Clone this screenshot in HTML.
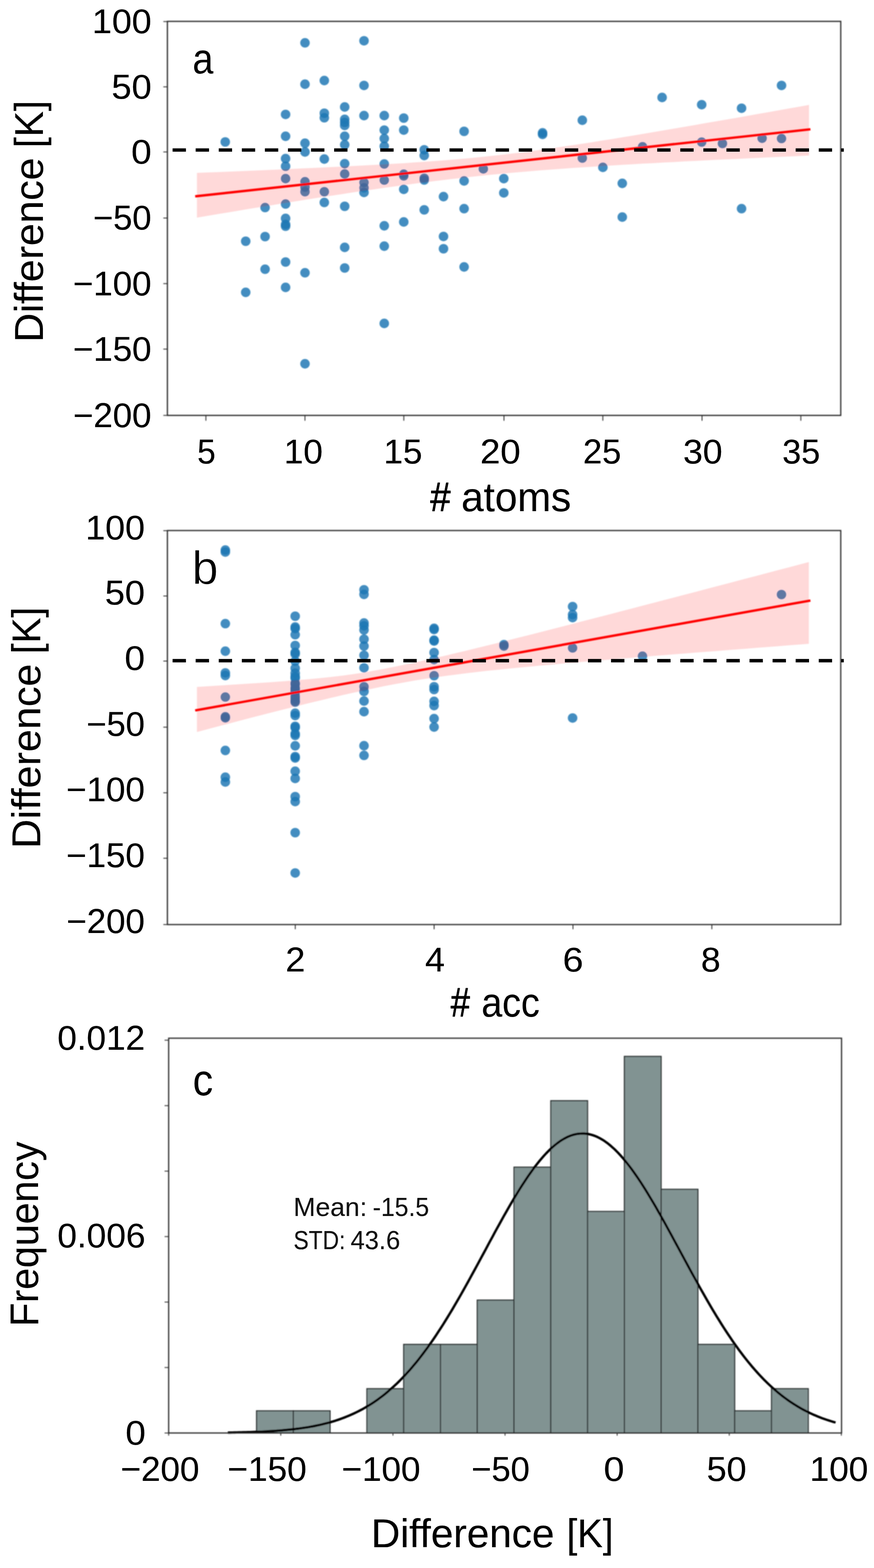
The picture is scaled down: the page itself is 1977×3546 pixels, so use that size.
<!DOCTYPE html>
<html lang="en"><head><meta charset="utf-8"><title>Figure</title>
<style>html,body{margin:0;padding:0;background:#fff}svg{display:block;filter:blur(0.45px)}</style></head>
<body>
<svg width="1977" height="3546" viewBox="0 0 1977 3546" font-family='"Liberation Sans", sans-serif'>
<defs><filter id="soft" filterUnits="userSpaceOnUse" x="0" y="0" width="1977" height="3546"><feGaussianBlur stdDeviation="0.9"/></filter></defs>
<rect width="1977" height="3546" fill="#fff"/>
<g filter="url(#soft)">
<g fill="#1f77b4" fill-opacity="0.84">
<circle cx="509.5" cy="321.0" r="10.8"/>
<circle cx="555.8" cy="545.5" r="10.8"/>
<circle cx="555.8" cy="661.1" r="10.8"/>
<circle cx="599.6" cy="469.3" r="10.8"/>
<circle cx="599.6" cy="535.0" r="10.8"/>
<circle cx="599.6" cy="608.8" r="10.8"/>
<circle cx="646.0" cy="258.7" r="10.8"/>
<circle cx="646.0" cy="308.1" r="10.8"/>
<circle cx="646.0" cy="358.6" r="10.8"/>
<circle cx="646.0" cy="376.0" r="10.8"/>
<circle cx="646.0" cy="403.9" r="10.8"/>
<circle cx="646.0" cy="461.3" r="10.8"/>
<circle cx="646.0" cy="493.9" r="10.8"/>
<circle cx="646.0" cy="507.5" r="10.8"/>
<circle cx="646.0" cy="511.5" r="10.8"/>
<circle cx="646.0" cy="592.5" r="10.8"/>
<circle cx="646.0" cy="649.9" r="10.8"/>
<circle cx="689.9" cy="96.8" r="10.8"/>
<circle cx="689.9" cy="190.4" r="10.8"/>
<circle cx="689.9" cy="323.8" r="10.8"/>
<circle cx="689.9" cy="343.6" r="10.8"/>
<circle cx="689.9" cy="410.8" r="10.8"/>
<circle cx="689.9" cy="423.0" r="10.8"/>
<circle cx="689.9" cy="433.5" r="10.8"/>
<circle cx="689.9" cy="616.8" r="10.8"/>
<circle cx="689.9" cy="822.6" r="10.8"/>
<circle cx="733.6" cy="182.1" r="10.8"/>
<circle cx="733.6" cy="256.0" r="10.8"/>
<circle cx="733.6" cy="266.3" r="10.8"/>
<circle cx="733.6" cy="359.6" r="10.8"/>
<circle cx="733.6" cy="433.5" r="10.8"/>
<circle cx="733.6" cy="457.8" r="10.8"/>
<circle cx="779.7" cy="241.9" r="10.8"/>
<circle cx="779.7" cy="269.8" r="10.8"/>
<circle cx="779.7" cy="276.8" r="10.8"/>
<circle cx="779.7" cy="283.7" r="10.8"/>
<circle cx="779.7" cy="308.1" r="10.8"/>
<circle cx="779.7" cy="327.3" r="10.8"/>
<circle cx="779.7" cy="370.1" r="10.8"/>
<circle cx="779.7" cy="393.4" r="10.8"/>
<circle cx="779.7" cy="466.5" r="10.8"/>
<circle cx="779.7" cy="559.4" r="10.8"/>
<circle cx="779.7" cy="606.0" r="10.8"/>
<circle cx="823.4" cy="92.2" r="10.8"/>
<circle cx="823.4" cy="193.2" r="10.8"/>
<circle cx="823.4" cy="261.4" r="10.8"/>
<circle cx="823.4" cy="412.6" r="10.8"/>
<circle cx="823.4" cy="424.7" r="10.8"/>
<circle cx="823.4" cy="435.2" r="10.8"/>
<circle cx="869.2" cy="261.4" r="10.8"/>
<circle cx="869.2" cy="294.2" r="10.8"/>
<circle cx="869.2" cy="313.3" r="10.8"/>
<circle cx="869.2" cy="330.7" r="10.8"/>
<circle cx="869.2" cy="370.8" r="10.8"/>
<circle cx="869.2" cy="407.3" r="10.8"/>
<circle cx="869.2" cy="510.6" r="10.8"/>
<circle cx="869.2" cy="556.6" r="10.8"/>
<circle cx="869.2" cy="731.4" r="10.8"/>
<circle cx="913.3" cy="267.0" r="10.8"/>
<circle cx="913.3" cy="294.2" r="10.8"/>
<circle cx="913.3" cy="393.8" r="10.8"/>
<circle cx="913.3" cy="397.8" r="10.8"/>
<circle cx="913.3" cy="428.2" r="10.8"/>
<circle cx="913.3" cy="501.9" r="10.8"/>
<circle cx="959.6" cy="338.7" r="10.8"/>
<circle cx="959.6" cy="351.6" r="10.8"/>
<circle cx="959.6" cy="403.0" r="10.8"/>
<circle cx="959.6" cy="407.0" r="10.8"/>
<circle cx="959.6" cy="474.5" r="10.8"/>
<circle cx="1003.2" cy="444.6" r="10.8"/>
<circle cx="1003.2" cy="534.7" r="10.8"/>
<circle cx="1003.2" cy="562.5" r="10.8"/>
<circle cx="1049.8" cy="297.0" r="10.8"/>
<circle cx="1049.8" cy="409.1" r="10.8"/>
<circle cx="1049.8" cy="471.8" r="10.8"/>
<circle cx="1049.8" cy="603.6" r="10.8"/>
<circle cx="1093.3" cy="381.9" r="10.8"/>
<circle cx="1139.6" cy="403.9" r="10.8"/>
<circle cx="1139.6" cy="436.2" r="10.8"/>
<circle cx="1227.3" cy="300.4" r="10.8"/>
<circle cx="1227.3" cy="303.9" r="10.8"/>
<circle cx="1317.2" cy="271.9" r="10.8"/>
<circle cx="1317.2" cy="357.5" r="10.8"/>
<circle cx="1363.7" cy="378.4" r="10.8"/>
<circle cx="1407.6" cy="414.6" r="10.8"/>
<circle cx="1407.6" cy="490.9" r="10.8"/>
<circle cx="1453.5" cy="331.8" r="10.8"/>
<circle cx="1497.7" cy="220.4" r="10.8"/>
<circle cx="1587.2" cy="236.7" r="10.8"/>
<circle cx="1587.2" cy="321.3" r="10.8"/>
<circle cx="1634.2" cy="324.5" r="10.8"/>
<circle cx="1677.4" cy="244.7" r="10.8"/>
<circle cx="1677.4" cy="471.8" r="10.8"/>
<circle cx="1723.9" cy="312.6" r="10.8"/>
<circle cx="1767.8" cy="193.2" r="10.8"/>
<circle cx="1767.8" cy="313.3" r="10.8"/>
</g>
<polygon points="445.4,391.1 468.9,390.1 492.3,389.2 515.8,388.2 539.3,387.2 562.7,386.2 586.2,385.3 609.7,384.2 633.1,383.2 656.6,382.2 680.1,381.1 703.5,380.1 727.0,379.0 750.5,377.8 773.9,376.7 797.4,375.5 820.9,374.3 844.4,373.0 867.8,371.7 891.3,370.3 914.8,368.9 938.2,367.3 961.7,365.7 985.2,364.0 1008.6,362.2 1032.1,360.3 1055.6,358.2 1079.0,355.9 1102.5,353.6 1126.0,351.0 1149.4,348.3 1172.9,345.4 1196.4,342.4 1219.8,339.3 1243.3,336.0 1266.8,332.6 1290.2,329.1 1313.7,325.5 1337.2,321.9 1360.6,318.1 1384.1,314.4 1407.6,310.5 1431.0,306.7 1454.5,302.7 1478.0,298.8 1501.5,294.8 1524.9,290.8 1548.4,286.8 1571.9,282.7 1595.3,278.6 1618.8,274.6 1642.3,270.5 1665.7,266.4 1689.2,262.2 1712.7,258.1 1736.1,254.0 1759.6,249.8 1783.1,245.6 1806.5,241.5 1830.0,237.3 1830.0,351.8 1806.5,352.9 1783.1,353.9 1759.6,355.0 1736.1,356.1 1712.7,357.2 1689.2,358.3 1665.7,359.4 1642.3,360.5 1618.8,361.6 1595.3,362.8 1571.9,364.0 1548.4,365.1 1524.9,366.4 1501.5,367.6 1478.0,368.9 1454.5,370.1 1431.0,371.5 1407.6,372.8 1384.1,374.2 1360.6,375.7 1337.2,377.2 1313.7,378.7 1290.2,380.3 1266.8,382.0 1243.3,383.7 1219.8,385.5 1196.4,387.5 1172.9,389.5 1149.4,391.6 1126.0,393.8 1102.5,396.1 1079.0,398.5 1055.6,401.0 1032.1,403.7 1008.6,406.4 985.2,409.3 961.7,412.3 938.2,415.3 914.8,418.4 891.3,421.7 867.8,425.0 844.4,428.4 820.9,431.8 797.4,435.3 773.9,438.9 750.5,442.5 727.0,446.1 703.5,449.8 680.1,453.5 656.6,457.3 633.1,461.1 609.7,464.9 586.2,468.7 562.7,472.6 539.3,476.5 515.8,480.4 492.3,484.3 468.9,488.2 445.4,492.2" fill="#ff0000" fill-opacity="0.15"/>
<line x1="441.5" y1="444.0" x2="1833.2" y2="292.4" stroke="#ff0000" stroke-width="5.4"/>
<rect x="378.7" y="48.3" width="1523.1" height="891.1" fill="none" stroke="#2a2a2a" stroke-width="2.7"/>
<line x1="369.5" y1="48.7" x2="378.7" y2="48.7" stroke="#2a2a2a" stroke-width="1.9"/>
<line x1="369.5" y1="196.4" x2="378.7" y2="196.4" stroke="#2a2a2a" stroke-width="1.9"/>
<line x1="369.5" y1="343.6" x2="378.7" y2="343.6" stroke="#2a2a2a" stroke-width="1.9"/>
<line x1="369.5" y1="493.1" x2="378.7" y2="493.1" stroke="#2a2a2a" stroke-width="1.9"/>
<line x1="369.5" y1="641.4" x2="378.7" y2="641.4" stroke="#2a2a2a" stroke-width="1.9"/>
<line x1="369.5" y1="789.5" x2="378.7" y2="789.5" stroke="#2a2a2a" stroke-width="1.9"/>
<line x1="369.5" y1="939.4" x2="378.7" y2="939.4" stroke="#2a2a2a" stroke-width="1.9"/>
<line x1="465.7" y1="939.4" x2="465.7" y2="951.4" stroke="#2a2a2a" stroke-width="2.0"/>
<line x1="689.8" y1="939.4" x2="689.8" y2="951.4" stroke="#2a2a2a" stroke-width="2.0"/>
<line x1="913.4" y1="939.4" x2="913.4" y2="951.4" stroke="#2a2a2a" stroke-width="2.0"/>
<line x1="1140.0" y1="939.4" x2="1140.0" y2="951.4" stroke="#2a2a2a" stroke-width="2.0"/>
<line x1="1363.6" y1="939.4" x2="1363.6" y2="951.4" stroke="#2a2a2a" stroke-width="2.0"/>
<line x1="1588.0" y1="939.4" x2="1588.0" y2="951.4" stroke="#2a2a2a" stroke-width="2.0"/>
<line x1="1811.5" y1="939.4" x2="1811.5" y2="951.4" stroke="#2a2a2a" stroke-width="2.0"/>
</g>
<line x1="390.4" y1="339.3" x2="1900" y2="339.3" stroke="#000" stroke-width="7.6" stroke-dasharray="30.2 22.0"/>
<line x1="1902.4" y1="339.3" x2="1908.7" y2="339.3" stroke="#000" stroke-width="7.6"/>
<text transform="translate(208.36,75.00) scale(1.0331,1)" font-size="78" fill="#000" stroke="#000" stroke-width="0.2" stroke-linejoin="round">100</text>
<text transform="translate(252.34,222.70) scale(1.0443,1)" font-size="78" fill="#000" stroke="#000" stroke-width="0.2" stroke-linejoin="round">50</text>
<text transform="translate(296.78,369.90) scale(1.0632,1)" font-size="78" fill="#000" stroke="#000" stroke-width="0.2" stroke-linejoin="round">0</text>
<text transform="translate(210.50,519.40) scale(0.9993,1)" font-size="78" fill="#000" stroke="#000" stroke-width="0.2" stroke-linejoin="round">−50</text>
<text transform="translate(164.96,667.70) scale(1.0114,1)" font-size="78" fill="#000" stroke="#000" stroke-width="0.2" stroke-linejoin="round">−100</text>
<text transform="translate(164.96,815.80) scale(1.0114,1)" font-size="78" fill="#000" stroke="#000" stroke-width="0.2" stroke-linejoin="round">−150</text>
<text transform="translate(165.26,965.70) scale(1.0097,1)" font-size="78" fill="#000" stroke="#000" stroke-width="0.2" stroke-linejoin="round">−200</text>
<text transform="translate(445.89,1047.80) scale(0.9663,1)" font-size="78" fill="#000" stroke="#000" stroke-width="0.2" stroke-linejoin="round">5</text>
<text transform="translate(642.27,1047.80) scale(1.0141,1)" font-size="78" fill="#000" stroke="#000" stroke-width="0.2" stroke-linejoin="round">10</text>
<text transform="translate(867.68,1047.80) scale(1.0128,1)" font-size="78" fill="#000" stroke="#000" stroke-width="0.2" stroke-linejoin="round">15</text>
<text transform="translate(1085.98,1047.80) scale(1.0557,1)" font-size="78" fill="#000" stroke="#000" stroke-width="0.2" stroke-linejoin="round">20</text>
<text transform="translate(1318.81,1047.80) scale(0.9980,1)" font-size="78" fill="#000" stroke="#000" stroke-width="0.2" stroke-linejoin="round">25</text>
<text transform="translate(1545.20,1047.80) scale(1.0256,1)" font-size="78" fill="#000" stroke="#000" stroke-width="0.2" stroke-linejoin="round">30</text>
<text transform="translate(1769.62,1047.80) scale(0.9859,1)" font-size="78" fill="#000" stroke="#000" stroke-width="0.2" stroke-linejoin="round">35</text>
<g>
<text transform="translate(973.19,1155.70) scale(0.8897,1)" font-size="93" fill="#000" stroke="#000" stroke-width="1.3" stroke-linejoin="round">#</text>
<text transform="translate(1043.32,1155.70) scale(0.9822,1)" font-size="93" fill="#000" stroke="#000" stroke-width="0.15" stroke-linejoin="round">atoms</text>
</g>
<g>
<text transform="translate(96.70,774.29) rotate(-90) scale(1.0111,1)" font-size="91" fill="#000" stroke="#000" stroke-width="0.15" stroke-linejoin="round">Difference</text>
<text transform="translate(96.70,334.47) rotate(-90) scale(0.9656,1)" font-size="91" fill="#000" stroke="#000" stroke-width="0.15" stroke-linejoin="round">[K]</text>
</g>
<text transform="translate(435.60,165.54) scale(0.8468,0.9571)" font-size="100" fill="#000">a</text>
<g filter="url(#soft)">
<g fill="#1f77b4" fill-opacity="0.84">
<circle cx="509.7" cy="1243.8" r="10.8"/>
<circle cx="509.7" cy="1248.4" r="10.8"/>
<circle cx="509.7" cy="1410.3" r="10.8"/>
<circle cx="509.7" cy="1472.6" r="10.8"/>
<circle cx="509.7" cy="1521.7" r="10.8"/>
<circle cx="509.7" cy="1527.6" r="10.8"/>
<circle cx="509.7" cy="1576.3" r="10.8"/>
<circle cx="509.7" cy="1620.9" r="10.8"/>
<circle cx="509.7" cy="1623.4" r="10.8"/>
<circle cx="509.7" cy="1697.1" r="10.8"/>
<circle cx="509.7" cy="1757.6" r="10.8"/>
<circle cx="509.7" cy="1768.4" r="10.8"/>
<circle cx="667.7" cy="1393.5" r="10.8"/>
<circle cx="667.7" cy="1417.9" r="10.8"/>
<circle cx="667.7" cy="1421.4" r="10.8"/>
<circle cx="667.7" cy="1435.3" r="10.8"/>
<circle cx="667.7" cy="1459.7" r="10.8"/>
<circle cx="667.7" cy="1475.4" r="10.8"/>
<circle cx="667.7" cy="1478.9" r="10.8"/>
<circle cx="667.7" cy="1495.2" r="10.8"/>
<circle cx="667.7" cy="1511.2" r="10.8"/>
<circle cx="667.7" cy="1522.4" r="10.8"/>
<circle cx="667.7" cy="1530.0" r="10.8"/>
<circle cx="667.7" cy="1533.5" r="10.8"/>
<circle cx="667.7" cy="1545.0" r="10.8"/>
<circle cx="667.7" cy="1547.4" r="10.8"/>
<circle cx="667.7" cy="1555.5" r="10.8"/>
<circle cx="667.7" cy="1558.6" r="10.8"/>
<circle cx="667.7" cy="1562.4" r="10.8"/>
<circle cx="667.7" cy="1566.2" r="10.8"/>
<circle cx="667.7" cy="1574.6" r="10.8"/>
<circle cx="667.7" cy="1579.8" r="10.8"/>
<circle cx="667.7" cy="1585.1" r="10.8"/>
<circle cx="667.7" cy="1587.8" r="10.8"/>
<circle cx="667.7" cy="1612.9" r="10.8"/>
<circle cx="667.7" cy="1618.1" r="10.8"/>
<circle cx="667.7" cy="1642.5" r="10.8"/>
<circle cx="667.7" cy="1645.5" r="10.8"/>
<circle cx="667.7" cy="1659.1" r="10.8"/>
<circle cx="667.7" cy="1663.1" r="10.8"/>
<circle cx="667.7" cy="1686.6" r="10.8"/>
<circle cx="667.7" cy="1711.0" r="10.8"/>
<circle cx="667.7" cy="1714.1" r="10.8"/>
<circle cx="667.7" cy="1744.1" r="10.8"/>
<circle cx="667.7" cy="1760.4" r="10.8"/>
<circle cx="667.7" cy="1801.5" r="10.8"/>
<circle cx="667.7" cy="1812.7" r="10.8"/>
<circle cx="667.7" cy="1883.0" r="10.8"/>
<circle cx="667.7" cy="1974.2" r="10.8"/>
<circle cx="823.4" cy="1333.7" r="10.8"/>
<circle cx="823.4" cy="1344.1" r="10.8"/>
<circle cx="823.4" cy="1408.9" r="10.8"/>
<circle cx="823.4" cy="1415.2" r="10.8"/>
<circle cx="823.4" cy="1424.6" r="10.8"/>
<circle cx="823.4" cy="1445.5" r="10.8"/>
<circle cx="823.4" cy="1461.1" r="10.8"/>
<circle cx="823.4" cy="1482.0" r="10.8"/>
<circle cx="823.4" cy="1510.2" r="10.8"/>
<circle cx="823.4" cy="1553.0" r="10.8"/>
<circle cx="823.4" cy="1563.5" r="10.8"/>
<circle cx="823.4" cy="1585.4" r="10.8"/>
<circle cx="823.4" cy="1609.4" r="10.8"/>
<circle cx="823.4" cy="1686.4" r="10.8"/>
<circle cx="823.4" cy="1708.3" r="10.8"/>
<circle cx="981.9" cy="1420.9" r="10.8"/>
<circle cx="981.9" cy="1423.6" r="10.8"/>
<circle cx="981.9" cy="1447.6" r="10.8"/>
<circle cx="981.9" cy="1449.6" r="10.8"/>
<circle cx="981.9" cy="1475.7" r="10.8"/>
<circle cx="981.9" cy="1491.6" r="10.8"/>
<circle cx="981.9" cy="1528.0" r="10.8"/>
<circle cx="981.9" cy="1553.0" r="10.8"/>
<circle cx="981.9" cy="1559.3" r="10.8"/>
<circle cx="981.9" cy="1586.1" r="10.8"/>
<circle cx="981.9" cy="1595.6" r="10.8"/>
<circle cx="981.9" cy="1625.1" r="10.8"/>
<circle cx="981.9" cy="1644.1" r="10.8"/>
<circle cx="1139.9" cy="1457.7" r="10.8"/>
<circle cx="1139.9" cy="1461.1" r="10.8"/>
<circle cx="1295.2" cy="1371.7" r="10.8"/>
<circle cx="1295.2" cy="1389.8" r="10.8"/>
<circle cx="1295.2" cy="1396.7" r="10.8"/>
<circle cx="1295.2" cy="1465.3" r="10.8"/>
<circle cx="1295.2" cy="1623.7" r="10.8"/>
<circle cx="1453.3" cy="1483.8" r="10.8"/>
<circle cx="1767.7" cy="1344.5" r="10.8"/>
</g>
<polygon points="445.4,1553.4 468.9,1552.0 492.3,1550.5 515.8,1549.1 539.2,1547.6 562.7,1546.1 586.2,1544.5 609.6,1542.9 633.1,1541.2 656.5,1539.4 680.0,1537.5 703.5,1535.4 726.9,1533.2 750.4,1530.7 773.9,1527.9 797.3,1524.8 820.8,1521.2 844.2,1517.1 867.7,1512.7 891.2,1508.1 914.6,1503.3 938.1,1498.3 961.5,1493.1 985.0,1487.8 1008.5,1482.4 1031.9,1476.8 1055.4,1471.2 1078.8,1465.5 1102.3,1459.7 1125.8,1453.9 1149.2,1448.0 1172.7,1442.1 1196.2,1436.2 1219.6,1430.2 1243.1,1424.2 1266.5,1418.2 1290.0,1412.2 1313.5,1406.1 1336.9,1400.0 1360.4,1394.0 1383.8,1387.9 1407.3,1381.8 1430.8,1375.7 1454.2,1369.6 1477.7,1363.4 1501.1,1357.3 1524.6,1351.2 1548.1,1345.0 1571.5,1338.9 1595.0,1332.7 1618.5,1326.6 1641.9,1320.4 1665.4,1314.3 1688.8,1308.1 1712.3,1301.9 1735.8,1295.8 1759.2,1289.6 1782.7,1283.4 1806.1,1277.3 1829.6,1271.1 1829.6,1456.0 1806.1,1457.8 1782.7,1459.6 1759.2,1461.4 1735.8,1463.2 1712.3,1465.0 1688.8,1466.9 1665.4,1468.7 1641.9,1470.5 1618.5,1472.4 1595.0,1474.2 1571.5,1476.1 1548.1,1477.9 1524.6,1479.8 1501.1,1481.7 1477.7,1483.6 1454.2,1485.5 1430.8,1487.4 1407.3,1489.3 1383.8,1491.2 1360.4,1493.2 1336.9,1495.2 1313.5,1497.2 1290.0,1499.2 1266.5,1501.3 1243.1,1503.4 1219.6,1505.5 1196.2,1507.7 1172.7,1509.9 1149.2,1512.3 1125.8,1514.7 1102.3,1517.1 1078.8,1519.7 1055.4,1522.5 1031.9,1525.4 1008.5,1528.5 985.0,1531.8 961.5,1535.3 938.1,1539.1 914.6,1543.2 891.2,1547.5 867.7,1552.1 844.2,1556.9 820.8,1561.9 797.3,1567.0 773.9,1572.3 750.4,1577.8 726.9,1583.4 703.5,1589.1 680.0,1594.8 656.5,1600.7 633.1,1606.6 609.6,1612.6 586.2,1618.6 562.7,1624.6 539.2,1630.7 515.8,1636.9 492.3,1643.0 468.9,1649.2 445.4,1655.4" fill="#ff0000" fill-opacity="0.15"/>
<line x1="441.5" y1="1606.6" x2="1833.2" y2="1358.1" stroke="#ff0000" stroke-width="5.4"/>
<rect x="378.7" y="1199.8" width="1523.1" height="891.1000000000001" fill="none" stroke="#2a2a2a" stroke-width="2.7"/>
<line x1="369.5" y1="1200.1000000000001" x2="378.7" y2="1200.1000000000001" stroke="#2a2a2a" stroke-width="1.9"/>
<line x1="369.5" y1="1347.8000000000002" x2="378.7" y2="1347.8000000000002" stroke="#2a2a2a" stroke-width="1.9"/>
<line x1="369.5" y1="1495.0" x2="378.7" y2="1495.0" stroke="#2a2a2a" stroke-width="1.9"/>
<line x1="369.5" y1="1644.5" x2="378.7" y2="1644.5" stroke="#2a2a2a" stroke-width="1.9"/>
<line x1="369.5" y1="1792.8000000000002" x2="378.7" y2="1792.8000000000002" stroke="#2a2a2a" stroke-width="1.9"/>
<line x1="369.5" y1="1940.9" x2="378.7" y2="1940.9" stroke="#2a2a2a" stroke-width="1.9"/>
<line x1="369.5" y1="2090.8" x2="378.7" y2="2090.8" stroke="#2a2a2a" stroke-width="1.9"/>
<line x1="667.9" y1="2090.9" x2="667.9" y2="2101.4" stroke="#2a2a2a" stroke-width="2.0"/>
<line x1="982.0" y1="2090.9" x2="982.0" y2="2101.4" stroke="#2a2a2a" stroke-width="2.0"/>
<line x1="1296.1" y1="2090.9" x2="1296.1" y2="2101.4" stroke="#2a2a2a" stroke-width="2.0"/>
<line x1="1610.2" y1="2090.9" x2="1610.2" y2="2101.4" stroke="#2a2a2a" stroke-width="2.0"/>
</g>
<line x1="390.4" y1="1494.1" x2="1900" y2="1494.1" stroke="#000" stroke-width="7.6" stroke-dasharray="30.2 22.0"/>
<line x1="1902.4" y1="1494.1" x2="1908.7" y2="1494.1" stroke="#000" stroke-width="7.6"/>
<text transform="translate(193.26,1219.70) scale(1.0331,1)" font-size="78" fill="#000" stroke="#000" stroke-width="0.2" stroke-linejoin="round">100</text>
<text transform="translate(237.24,1367.40) scale(1.0443,1)" font-size="78" fill="#000" stroke="#000" stroke-width="0.2" stroke-linejoin="round">50</text>
<text transform="translate(281.68,1514.60) scale(1.0632,1)" font-size="78" fill="#000" stroke="#000" stroke-width="0.2" stroke-linejoin="round">0</text>
<text transform="translate(195.40,1664.10) scale(0.9993,1)" font-size="78" fill="#000" stroke="#000" stroke-width="0.2" stroke-linejoin="round">−50</text>
<text transform="translate(149.86,1812.40) scale(1.0114,1)" font-size="78" fill="#000" stroke="#000" stroke-width="0.2" stroke-linejoin="round">−100</text>
<text transform="translate(149.86,1960.50) scale(1.0114,1)" font-size="78" fill="#000" stroke="#000" stroke-width="0.2" stroke-linejoin="round">−150</text>
<text transform="translate(150.16,2110.40) scale(1.0097,1)" font-size="78" fill="#000" stroke="#000" stroke-width="0.2" stroke-linejoin="round">−200</text>
<text transform="translate(645.78,2197.20) scale(1.0313,1)" font-size="78" fill="#000" stroke="#000" stroke-width="0.2" stroke-linejoin="round">2</text>
<text transform="translate(961.39,2197.20) scale(1.0333,1)" font-size="78" fill="#000" stroke="#000" stroke-width="0.2" stroke-linejoin="round">4</text>
<text transform="translate(1272.68,2197.20) scale(1.0811,1)" font-size="78" fill="#000" stroke="#000" stroke-width="0.2" stroke-linejoin="round">6</text>
<text transform="translate(1585.51,2197.20) scale(1.0229,1)" font-size="78" fill="#000" stroke="#000" stroke-width="0.2" stroke-linejoin="round">8</text>
<g>
<text transform="translate(1019.61,2299.30) scale(0.8425,1)" font-size="93" fill="#000" stroke="#000" stroke-width="1.3" stroke-linejoin="round">#</text>
<text transform="translate(1089.00,2299.30) scale(0.9109,1)" font-size="93" fill="#000" stroke="#000" stroke-width="0.15" stroke-linejoin="round">acc</text>
</g>
<g>
<text transform="translate(91.40,1918.99) rotate(-90) scale(1.0111,1)" font-size="91" fill="#000" stroke="#000" stroke-width="0.15" stroke-linejoin="round">Difference</text>
<text transform="translate(91.40,1479.13) rotate(-90) scale(0.9595,1)" font-size="91" fill="#000" stroke="#000" stroke-width="0.15" stroke-linejoin="round">[K]</text>
</g>
<text transform="translate(434.17,1321.44) scale(1.0667,1.0558)" font-size="100" fill="#000" stroke="#fff" stroke-width="1.0" stroke-linejoin="round">b</text>
<g filter="url(#soft)">
<g fill="#819392" stroke="#2b3030" stroke-width="2.5">
<rect x="580.3" y="3190.6" width="83.2" height="50.1"/>
<rect x="663.5" y="3190.6" width="83.2" height="50.1"/>
<rect x="829.9" y="3140.5" width="83.2" height="100.2"/>
<rect x="913.1" y="3040.3" width="83.2" height="200.4"/>
<rect x="996.3" y="3040.3" width="83.2" height="200.4"/>
<rect x="1079.5" y="2940.1" width="83.2" height="300.6"/>
<rect x="1162.7" y="2639.5" width="83.2" height="601.2"/>
<rect x="1245.9" y="2489.2" width="83.2" height="751.5"/>
<rect x="1329.1" y="2739.7" width="83.2" height="501.0"/>
<rect x="1412.3" y="2389.0" width="83.2" height="851.7"/>
<rect x="1495.5" y="2689.6" width="83.2" height="551.1"/>
<rect x="1578.7" y="3040.3" width="83.2" height="200.4"/>
<rect x="1661.9" y="3190.6" width="83.2" height="50.1"/>
<rect x="1745.1" y="3140.5" width="83.2" height="100.2"/>
</g>
<polyline points="515.4,3239.8 520.5,3239.7 525.6,3239.6 530.6,3239.5 535.7,3239.4 540.8,3239.3 545.8,3239.2 550.9,3239.0 556.0,3238.9 561.1,3238.7 566.1,3238.6 571.2,3238.4 576.3,3238.2 581.4,3238.0 586.4,3237.8 591.5,3237.6 596.6,3237.4 601.6,3237.1 606.7,3236.8 611.8,3236.5 616.9,3236.2 621.9,3235.9 627.0,3235.5 632.1,3235.1 637.2,3234.7 642.2,3234.3 647.3,3233.8 652.4,3233.3 657.4,3232.8 662.5,3232.2 667.6,3231.7 672.7,3231.0 677.7,3230.4 682.8,3229.7 687.9,3228.9 693.0,3228.1 698.0,3227.3 703.1,3226.4 708.2,3225.5 713.2,3224.5 718.3,3223.4 723.4,3222.3 728.5,3221.2 733.5,3219.9 738.6,3218.6 743.7,3217.3 748.7,3215.8 753.8,3214.3 758.9,3212.8 764.0,3211.1 769.0,3209.4 774.1,3207.5 779.2,3205.6 784.3,3203.6 789.3,3201.5 794.4,3199.3 799.5,3197.0 804.5,3194.6 809.6,3192.1 814.7,3189.5 819.8,3186.8 824.8,3184.0 829.9,3181.0 835.0,3177.9 840.1,3174.7 845.1,3171.4 850.2,3167.9 855.3,3164.4 860.3,3160.6 865.4,3156.8 870.5,3152.8 875.6,3148.6 880.6,3144.3 885.7,3139.9 890.8,3135.3 895.9,3130.6 900.9,3125.7 906.0,3120.6 911.1,3115.4 916.1,3110.1 921.2,3104.5 926.3,3098.9 931.4,3093.0 936.4,3087.0 941.5,3080.9 946.6,3074.6 951.6,3068.1 956.7,3061.5 961.8,3054.7 966.9,3047.8 971.9,3040.7 977.0,3033.5 982.1,3026.1 987.2,3018.5 992.2,3010.8 997.3,3003.0 1002.4,2995.1 1007.4,2987.0 1012.5,2978.8 1017.6,2970.4 1022.7,2962.0 1027.7,2953.4 1032.8,2944.7 1037.9,2935.9 1043.0,2927.0 1048.0,2918.1 1053.1,2909.0 1058.2,2899.9 1063.2,2890.7 1068.3,2881.4 1073.4,2872.1 1078.5,2862.8 1083.5,2853.4 1088.6,2844.0 1093.7,2834.6 1098.8,2825.2 1103.8,2815.7 1108.9,2806.3 1114.0,2797.0 1119.0,2787.6 1124.1,2778.3 1129.2,2769.1 1134.3,2759.9 1139.3,2750.8 1144.4,2741.8 1149.5,2732.9 1154.5,2724.2 1159.6,2715.5 1164.7,2707.0 1169.8,2698.6 1174.8,2690.4 1179.9,2682.3 1185.0,2674.5 1190.1,2666.8 1195.1,2659.3 1200.2,2652.1 1205.3,2645.0 1210.3,2638.2 1215.4,2631.7 1220.5,2625.3 1225.6,2619.3 1230.6,2613.5 1235.7,2608.0 1240.8,2602.8 1245.9,2597.9 1250.9,2593.3 1256.0,2589.0 1261.1,2585.0 1266.1,2581.3 1271.2,2578.0 1276.3,2575.0 1281.4,2572.3 1286.4,2570.0 1291.5,2568.0 1296.6,2566.4 1301.7,2565.1 1306.7,2564.2 1311.8,2563.6 1316.9,2563.4 1321.9,2563.5 1327.0,2564.0 1332.1,2564.9 1337.2,2566.1 1342.2,2567.6 1347.3,2569.5 1352.4,2571.8 1357.4,2574.4 1362.5,2577.3 1367.6,2580.6 1372.7,2584.2 1377.7,2588.1 1382.8,2592.4 1387.9,2596.9 1393.0,2601.8 1398.0,2606.9 1403.1,2612.4 1408.2,2618.1 1413.2,2624.1 1418.3,2630.4 1423.4,2636.9 1428.5,2643.6 1433.5,2650.6 1438.6,2657.9 1443.7,2665.3 1448.8,2672.9 1453.8,2680.8 1458.9,2688.8 1464.0,2697.0 1469.0,2705.3 1474.1,2713.8 1479.2,2722.4 1484.3,2731.2 1489.3,2740.1 1494.4,2749.0 1499.5,2758.1 1504.6,2767.3 1509.6,2776.5 1514.7,2785.8 1519.8,2795.1 1524.8,2804.5 1529.9,2813.9 1535.0,2823.3 1540.1,2832.7 1545.1,2842.1 1550.2,2851.5 1555.3,2860.9 1560.3,2870.3 1565.4,2879.6 1570.5,2888.8 1575.6,2898.0 1580.6,2907.2 1585.7,2916.3 1590.8,2925.2 1595.9,2934.1 1600.9,2942.9 1606.0,2951.7 1611.1,2960.3 1616.1,2968.7 1621.2,2977.1 1626.3,2985.3 1631.4,2993.5 1636.4,3001.4 1641.5,3009.3 1646.6,3017.0 1651.7,3024.6 1656.7,3032.0 1661.8,3039.3 1666.9,3046.4 1671.9,3053.3 1677.0,3060.2 1682.1,3066.8 1687.2,3073.3 1692.2,3079.6 1697.3,3085.8 1702.4,3091.9 1707.5,3097.7 1712.5,3103.4 1717.6,3109.0 1722.7,3114.4 1727.7,3119.6 1732.8,3124.7 1737.9,3129.6 1743.0,3134.4 1748.0,3139.0 1753.1,3143.4 1758.2,3147.8 1763.2,3151.9 1768.3,3156.0 1773.4,3159.9 1778.5,3163.6 1783.5,3167.2 1788.6,3170.7 1793.7,3174.1 1798.8,3177.3 1803.8,3180.4 1808.9,3183.4 1814.0,3186.3 1819.0,3189.0 1824.1,3191.6 1829.2,3194.2 1834.3,3196.6 1839.3,3198.9 1844.4,3201.1 1849.5,3203.2 1854.6,3205.2 1859.6,3207.2 1864.7,3209.0 1869.8,3210.8 1874.8,3212.4 1879.9,3214.0 1885.0,3215.6 1890.1,3217.0" fill="none" stroke="#000" stroke-width="5.4" stroke-linejoin="round"/>
<rect x="381.5" y="2347.9" width="1522.1" height="892.7999999999997" fill="none" stroke="#2a2a2a" stroke-width="2.7"/>
<line x1="372.3" y1="3240.7" x2="381.5" y2="3240.7" stroke="#2a2a2a" stroke-width="1.9"/>
<line x1="372.3" y1="3092.6" x2="381.5" y2="3092.6" stroke="#2a2a2a" stroke-width="1.9"/>
<line x1="372.3" y1="2944.6" x2="381.5" y2="2944.6" stroke="#2a2a2a" stroke-width="1.9"/>
<line x1="372.3" y1="2796.5" x2="381.5" y2="2796.5" stroke="#2a2a2a" stroke-width="1.9"/>
<line x1="372.3" y1="2648.5" x2="381.5" y2="2648.5" stroke="#2a2a2a" stroke-width="1.9"/>
<line x1="372.3" y1="2500.4" x2="381.5" y2="2500.4" stroke="#2a2a2a" stroke-width="1.9"/>
<line x1="372.3" y1="2352.4" x2="381.5" y2="2352.4" stroke="#2a2a2a" stroke-width="1.9"/>
<line x1="381.5" y1="3240.7" x2="381.5" y2="3246.7" stroke="#2a2a2a" stroke-width="1.9"/>
<line x1="635.1" y1="3240.7" x2="635.1" y2="3246.7" stroke="#2a2a2a" stroke-width="1.9"/>
<line x1="888.8" y1="3240.7" x2="888.8" y2="3246.7" stroke="#2a2a2a" stroke-width="1.9"/>
<line x1="1142.4" y1="3240.7" x2="1142.4" y2="3246.7" stroke="#2a2a2a" stroke-width="1.9"/>
<line x1="1396.0" y1="3240.7" x2="1396.0" y2="3246.7" stroke="#2a2a2a" stroke-width="1.9"/>
<line x1="1649.6" y1="3240.7" x2="1649.6" y2="3246.7" stroke="#2a2a2a" stroke-width="1.9"/>
<line x1="1903.2" y1="3240.7" x2="1903.2" y2="3246.7" stroke="#2a2a2a" stroke-width="1.9"/>
</g>
<text transform="translate(129.73,2374.41) scale(0.7930,0.7873)" font-size="100" fill="#000" stroke="#000" stroke-width="0.2" stroke-linejoin="round">0.012</text>
<text transform="translate(129.71,2820.93) scale(0.7963,0.7746)" font-size="100" fill="#000" stroke="#000" stroke-width="0.2" stroke-linejoin="round">0.006</text>
<text transform="translate(283.70,3267.13) scale(0.8251,0.7731)" font-size="100" fill="#000" stroke="#000" stroke-width="0.2" stroke-linejoin="round">0</text>
<text transform="translate(272.64,3348.80) scale(1.0097,1)" font-size="78.5" fill="#000" stroke="#000" stroke-width="0.2" stroke-linejoin="round">−200</text>
<text transform="translate(514.62,3348.80) scale(1.0138,1)" font-size="78.5" fill="#000" stroke="#000" stroke-width="0.2" stroke-linejoin="round">−150</text>
<text transform="translate(772.64,3348.80) scale(1.0097,1)" font-size="78.5" fill="#000" stroke="#000" stroke-width="0.2" stroke-linejoin="round">−100</text>
<text transform="translate(1066.20,3348.80) scale(0.9930,1)" font-size="78.5" fill="#000" stroke="#000" stroke-width="0.2" stroke-linejoin="round">−50</text>
<text transform="translate(1365.44,3348.80) scale(1.0698,1)" font-size="78.5" fill="#000" stroke="#000" stroke-width="0.2" stroke-linejoin="round">0</text>
<text transform="translate(1598.45,3348.80) scale(1.0339,1)" font-size="78.5" fill="#000" stroke="#000" stroke-width="0.2" stroke-linejoin="round">50</text>
<text transform="translate(1831.44,3348.80) scale(1.0126,1)" font-size="78.5" fill="#000" stroke="#000" stroke-width="0.2" stroke-linejoin="round">100</text>
<g>
<text transform="translate(839.26,3499.40) scale(1.0044,1)" font-size="91" fill="#000" stroke="#000" stroke-width="0.15" stroke-linejoin="round">Difference</text>
<text transform="translate(1281.72,3499.40) scale(0.9524,1)" font-size="91" fill="#000" stroke="#000" stroke-width="0.15" stroke-linejoin="round">[K]</text>
</g>
<text transform="translate(85.70,3000.31) rotate(-90) scale(0.9739,1)" font-size="91" fill="#000" stroke="#000" stroke-width="0.15" stroke-linejoin="round">Frequency</text>
<text transform="translate(436.10,2476.80) scale(0.9186,0.9954)" font-size="100" fill="#000">c</text>
<g>
<text transform="translate(663.86,2749.70) scale(1.0068,1)" font-size="59.5" fill="#111" stroke="#111" stroke-width="0.15" stroke-linejoin="round">Mean:</text>
<text transform="translate(843.08,2749.70) scale(0.9413,1)" font-size="59.5" fill="#111" stroke="#111" stroke-width="0.15" stroke-linejoin="round">-15.5</text>
</g>
<g>
<text transform="translate(663.98,2825.40) scale(0.8652,1)" font-size="59.5" fill="#111" stroke="#111" stroke-width="0.15" stroke-linejoin="round">STD:</text>
<text transform="translate(792.90,2825.40) scale(0.9700,1)" font-size="59.5" fill="#111" stroke="#111" stroke-width="0.15" stroke-linejoin="round">43.6</text>
</g>
</svg>
</body></html>
